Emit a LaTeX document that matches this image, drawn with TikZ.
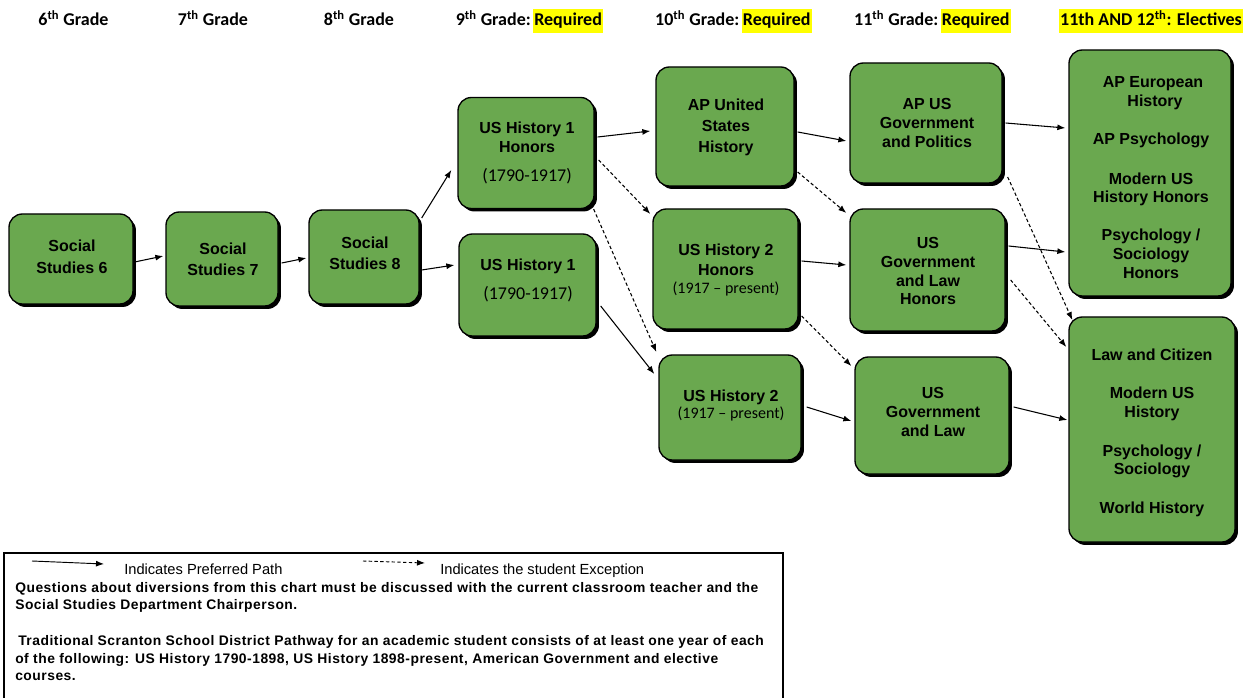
\documentclass[tikz,border=0pt]{standalone}
\usepackage{fontspec}
\setmainfont{Liberation Sans}
\newfontfamily\carlito{Carlito}
\newfontfamily\lgfont[LetterSpace=3.6]{Liberation Sans}
\usetikzlibrary{arrows.meta,shadows,calc}
\definecolor{boxgreen}{RGB}{106,168,79}
\definecolor{hlyellow}{RGB}{255,255,0}
\newcommand\hlt[1]{{\setlength{\fboxsep}{1pt}\colorbox{hlyellow}{\rule[-4.5pt]{0pt}{16.5pt}#1}}}
\begin{document}
\begin{tikzpicture}[x=0.75pt,y=-0.75pt,
  course/.style 2 args={draw=black, line width=1pt, fill=boxgreen, rounded corners=10pt,
    minimum width=#1*0.75pt, minimum height=#2*0.75pt, inner sep=0pt,
    drop shadow={shadow xshift=2.2pt, shadow yshift=-2.2pt, fill=black, opacity=1}},
  btx/.style={anchor=base, inner sep=0pt, font=\fontsize{12}{14}\selectfont\bfseries},
  ptx/.style={anchor=base, inner sep=0pt, font=\fontsize{12}{14}\selectfont\carlito},
  hdx/.style={anchor=base, inner sep=0pt, font=\fontsize{13.5}{16}\selectfont\carlito\bfseries},
  lgb/.style={anchor=base west, inner sep=0pt, font=\fontsize{10.4}{12}\selectfont\lgfont\bfseries},
  lgr/.style={anchor=base west, inner sep=0pt, font=\fontsize{11}{12}\selectfont},
  pref/.style={-{Latex[length=6pt,width=4.5pt]}, line width=0.8pt},
  exc/.style={pref, dash pattern=on 2.5pt off 1.8pt}]
\fill[white] (0,0) rectangle (1252,698);
\useasboundingbox (0,0) rectangle (1252,698);

% headers
\node[hdx] (g6) at (73.5,26) {6\textsuperscript{th} Grade};
\node[hdx] (g7) at (213,26) {7\textsuperscript{th} Grade};
\node[hdx] (g8) at (359,26) {8\textsuperscript{th} Grade};
\node[hdx] (g9) at (529.5,26) {9\textsuperscript{th} Grade:\hspace{0.12em}\hlt{Required}};
\node[hdx] (g10) at (733.5,26) {10\textsuperscript{th} Grade:\hspace{0.12em}\hlt{Required}};
\node[hdx] (g11) at (932.5,26) {11\textsuperscript{th} Grade:\hspace{0.12em}\hlt{Required}};
\node[hdx] (g12) at (1151,26) {\hlt{11th AND 12\textsuperscript{th}: Electives}};

% boxes
\node[course={124}{90}] (ss6) at (71,259) {};
\node[course={112}{94}] (ss7) at (222,259) {};
\node[course={110}{94}] (ss8) at (364,257) {};
\node[course={136}{111}] (h1h) at (526,153) {};
\node[course={137}{102}] (h1) at (527.5,285) {};
\node[course={138}{119}] (apush) at (725,126.5) {};
\node[course={145}{120}] (h2h) at (725.5,269) {};
\node[course={142}{105}] (h2) at (730,407.5) {};
\node[course={152}{120}] (apgov) at (926,123) {};
\node[course={155}{122}] (glh) at (927.5,270) {};
\node[course={154}{117}] (gl) at (932,415.5) {};
\node[course={162}{246}] (el1) at (1150,173) {};
\node[course={166}{225}] (el2) at (1152,429.5) {};

% box texts
\node[btx] (t1a) at (72,252) {Social};
\node[btx] (t1b) at (72,274) {Studies 6};
\node[btx] (t2a) at (223,255) {Social};
\node[btx] (t2b) at (223,276) {Studies 7};
\node[btx] (t3a) at (365,249) {Social};
\node[btx] (t3b) at (365,270) {Studies 8};
\node[btx] (t4a) at (527,134) {US History 1};
\node[btx] (t4b) at (527,153) {Honors};
\node[ptx, font=\fontsize{13.5}{14}\selectfont\carlito] (t4c) at (527,182) {(1790-1917)};
\node[btx] (t5a) at (528,271) {US History 1};
\node[ptx, font=\fontsize{13.5}{14}\selectfont\carlito] (t5b) at (528,300) {(1790-1917)};
\node[btx] (t6a) at (726,111) {AP United};
\node[btx] (t6b) at (726,132) {States};
\node[btx] (t6c) at (726,153) {History};
\node[btx] (t7a) at (726,256) {US History 2};
\node[btx] (t7b) at (726,276) {Honors};
\node[ptx] (t7c) at (726,294) {(1917 – present)};
\node[btx] (t8a) at (731,401) {US History 2};
\node[ptx] (t8b) at (731,418) {(1917 – present)};
\node[btx] (t9a) at (927,110) {AP US};
\node[btx] (t9b) at (927,129) {Government};
\node[btx] (t9c) at (927,148) {and Politics};
\node[btx] (t10a) at (928,249) {US};
\node[btx] (t10b) at (928,268) {Government};
\node[btx] (t10c) at (928,287) {and Law};
\node[btx] (t10d) at (928,305) {Honors};
\node[btx] (t11a) at (933,398) {US};
\node[btx] (t11b) at (933,417) {Government};
\node[btx] (t11c) at (933,436) {and Law};
\node[btx] (t12a) at (1153,88) {AP European};
\node[btx] (t12b) at (1155,107) {History};
\node[btx] (t12c) at (1151,145) {AP Psychology};
\node[btx] (t12d) at (1151,185) {Modern US};
\node[btx] (t12e) at (1151,203) {History Honors};
\node[btx] (t12f) at (1151,241) {Psychology /};
\node[btx] (t12g) at (1151,260) {Sociology};
\node[btx] (t12h) at (1151,279) {Honors};
\node[btx] (t13a) at (1152,360) {Law and Citizen};
\node[btx] (t13b) at (1152,398) {Modern US};
\node[btx] (t13c) at (1152,417) {History};
\node[btx] (t13d) at (1152,456) {Psychology /};
\node[btx] (t13e) at (1152,474) {Sociology};
\node[btx] (t13f) at (1152,513) {World History};

% preferred paths
\draw[pref] ($(ss6.east)+(1,3)$) -- ($(ss7.west)+(-2,-3)$);
\draw[pref] ($(ss7.east)+(3,4)$) -- ($(ss8.west)+(-2,1)$);
\draw[pref] ($(ss8.east)+(2,-39)$) -- ($(h1h.west)+(-6,17)$);
\draw[pref] ($(ss8.east)+(2,13)$) -- ($(h1.west)+(-4,-20)$);
\draw[pref] ($(h1h.east)+(3,-16)$) -- ($(apush.west)+(-5,4.5)$);
\draw[pref] ($(h1.east)+(4,21)$) -- ($(h2.west)+(-4,-33.5)$);
\draw[pref] ($(apush.east)+(3,5.5)$) -- ($(apgov.west)+(-3,18)$);
\draw[pref] ($(h2h.east)+(3,-8)$) -- ($(glh.west)+(-3,-5)$);
\draw[pref] ($(h2.east)+(5,-0.5)$) -- ($(gl.west)+(-3,5.5)$);
\draw[pref] ($(apgov.east)+(3,0)$) -- ($(el1.west)+(-3,-45)$);
\draw[pref] ($(glh.east)+(3,-24)$) -- ($(el1.west)+(-3,79)$);
\draw[pref] ($(gl.east)+(4,-8.5)$) -- ($(el2.west)+(-1,-9.5)$);

% exceptions
\draw[exc] ($(h1h.east)+(4,7)$) -- ($(h2h.west)+(-2,-55)$);
\draw[exc] ($(h1h.south east)+(-1,0)$) -- ($(h2.west)+(-2,-55.5)$);
\draw[exc] ($(apush.east)+(3,45.5)$) -- ($(glh.west)+(-3,-57)$);
\draw[exc] ($(h2h.east)+(3,47)$) -- ($(gl.west)+(-3,-49.5)$);
\draw[exc] ($(apgov.east)+(5,54)$) -- ($(el2.west)+(4,-109.5)$);
\draw[exc] ($(glh.east)+(5,10)$) -- ($(el2.west)+(-2,-82.5)$);

% legend
\draw[line width=0.8pt] (4,702) -- (4,553) -- (783,553) -- (783,702);
\coordinate (ls1) at (32,561);
\coordinate (ls2) at (104,564);
\coordinate (ld1) at (363,561);
\coordinate (ld2) at (425,563);
\draw[pref, line width=0.7pt] (ls1) -- (ls2);
\draw[exc, line width=0.7pt] (ld1) -- (ld2);
\node[lgr] (lp) at (124,574) {Indicates Preferred Path};
\node[lgr] (le) at (440,574) {Indicates the student Exception};
\node[lgb] (q1) at (15,592) {Questions about diversions from this chart must be discussed with the current classroom teacher and the};
\node[lgb] (q2) at (15,609) {Social Studies Department Chairperson.};
\node[lgb] (q3) at (18,645) {Traditional Scranton School District Pathway for an academic student consists of at least one year of each};
\node[lgb] (q4) at (15,663) {of the following: US History 1790-1898, US History 1898-present, American Government and elective};
\node[lgb] (q5) at (15,680) {courses.};
\end{tikzpicture}
\end{document}
